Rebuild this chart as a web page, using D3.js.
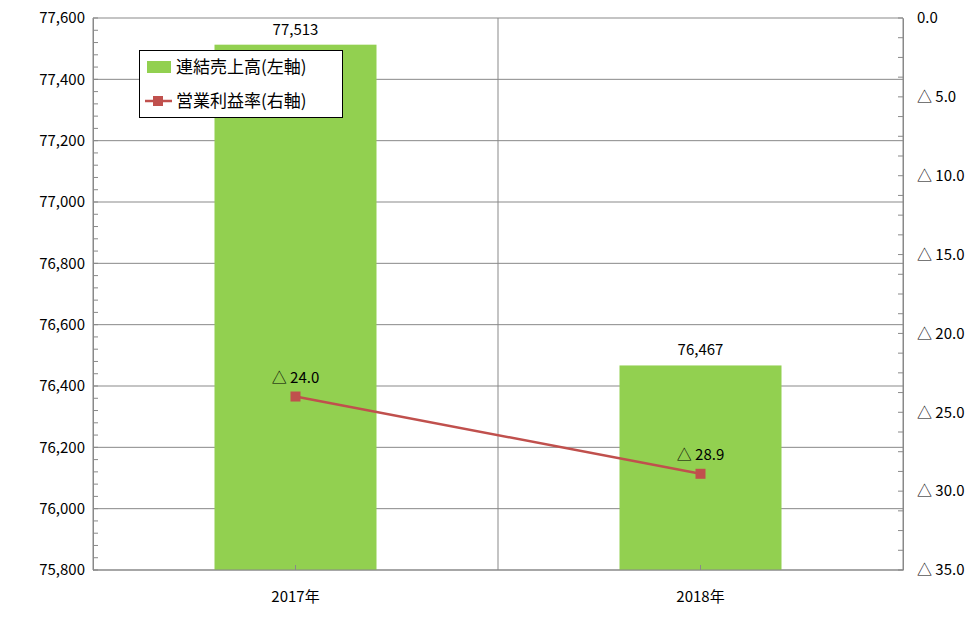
<!DOCTYPE html>
<html><head><meta charset="utf-8">
<script src="https://cdn.jsdelivr.net/npm/d3@7"></script>
<style>body{margin:0;background:#fff}text{font-family:"Noto Sans CJK JP","Noto Sans",sans-serif;fill:#000}</style>
</head><body><svg id="c" width="976" height="638"></svg>
<script>
const years = ['2017年', '2018年']
const sales = [77513, 76467]
const margin = [24.0, 28.9]
const leftTicks = [75800, 76000, 76200, 76400, 76600, 76800, 77000, 77200, 77400, 77600]
const rightTicks = [0, 5, 10, 15, 20, 25, 30, 35]

const L = 93, R = 903, T = 18, B = 570
const svg = d3.select('#c')
const x = d3.scaleBand().domain(years).range([L, R])
const yL = d3.scaleLinear().domain([75800, 77600]).range([B, T])
const yR = d3.scaleLinear().domain([0, 35]).range([T, B])
const grey = '#898989'

// horizontal grid
svg.selectAll('.g').data(leftTicks).enter().append('line')
    .attr('x1', L).attr('x2', R).attr('y1', d => yL(d)).attr('y2', d => yL(d))
    .attr('stroke', grey).attr('stroke-width', 1)
// vertical grid at band edges
svg.selectAll('.v').data([L, L + x.bandwidth(), R]).enter().append('line')
    .attr('x1', d => d).attr('x2', d => d).attr('y1', T).attr('y2', B)
    .attr('stroke', grey)

// bars
const bw = x.bandwidth() * 0.4
svg.selectAll('.bar').data(sales).enter().append('rect')
    .attr('x', (d, i) => x(years[i]) + x.bandwidth() / 2 - bw / 2)
    .attr('width', bw).attr('y', d => yL(d)).attr('height', d => B - yL(d))
    .attr('fill', '#92d050')
svg.selectAll('.bl').data(sales).enter().append('text')
    .attr('x', (d, i) => x(years[i]) + x.bandwidth() / 2).attr('y', d => yL(d) - 10)
    .attr('text-anchor', 'middle').attr('font-size', 15).text(d => d3.format(',')(d))

// axes
const axL = svg.append('g').attr('transform', `translate(${L},0)`)
    .call(d3.axisLeft(yL).tickValues(leftTicks).tickFormat(d3.format(',')).tickSize(0).tickPadding(8))
axL.select('.domain').attr('stroke', grey)
axL.selectAll('text').attr('font-size', 15).attr('font-family', '"Noto Sans",sans-serif')
const minorL = d3.range(75800, 77600.1, 40)
svg.selectAll('.ml').data(minorL).enter().append('line')
    .attr('x1', L).attr('x2', L + 5).attr('y1', d => yL(d)).attr('y2', d => yL(d)).attr('stroke', grey)

const axR = svg.append('g').attr('transform', `translate(${R},0)`)
    .call(d3.axisRight(yR).tickValues(rightTicks).tickSize(0).tickPadding(14)
        .tickFormat(d => d === 0 ? '0.0' : '△ ' + d.toFixed(1)))
axR.select('.domain').attr('stroke', grey)
axR.selectAll('text').attr('font-size', 15)
const minorR = d3.range(0, 35.01, 1.25)
svg.selectAll('.mr').data(minorR).enter().append('line')
    .attr('x1', R - 5).attr('x2', R).attr('y1', d => yR(d)).attr('y2', d => yR(d)).attr('stroke', grey)

svg.append('line').attr('x1', L).attr('x2', R).attr('y1', B).attr('y2', B).attr('stroke', grey)
svg.selectAll('.xt').data(years).enter().append('line')
    .attr('x1', d => x(d) + x.bandwidth() / 2).attr('x2', d => x(d) + x.bandwidth() / 2)
    .attr('y1', B).attr('y2', B - 5).attr('stroke', grey)
svg.selectAll('.xl').data(years).enter().append('text')
    .attr('x', d => x(d) + x.bandwidth() / 2).attr('y', B + 32)
    .attr('text-anchor', 'middle').attr('font-size', 15).text(d => d)

// line
const cx = i => x(years[i]) + x.bandwidth() / 2
svg.append('path').datum(margin)
    .attr('d', d3.line().x((d, i) => cx(i)).y(d => yR(d)))
    .attr('fill', 'none').attr('stroke', '#c0504d').attr('stroke-width', 2.5)
svg.selectAll('.pt').data(margin).enter().append('rect')
    .attr('x', (d, i) => cx(i) - 5).attr('y', d => yR(d) - 5).attr('width', 10).attr('height', 10)
    .attr('fill', '#c0504d')
svg.selectAll('.pl').data(margin).enter().append('text')
    .attr('x', (d, i) => cx(i)).attr('y', d => yR(d) - 14)
    .attr('text-anchor', 'middle').attr('font-size', 15).text(d => '△ ' + d.toFixed(1))

// legend
const lg = svg.append('g')
lg.append('rect').attr('x', 139.5).attr('y', 50.5).attr('width', 203).attr('height', 67)
    .attr('fill', '#fff').attr('stroke', '#000')
lg.append('rect').attr('x', 147).attr('y', 61).attr('width', 24).attr('height', 12).attr('fill', '#92d050')
lg.append('text').attr('x', 176).attr('y', 73).attr('font-size', 17).text('連結売上高(左軸)')
lg.append('line').attr('x1', 145).attr('x2', 172).attr('y1', 101).attr('y2', 101)
    .attr('stroke', '#c0504d').attr('stroke-width', 2.5)
lg.append('rect').attr('x', 153).attr('y', 96).attr('width', 10).attr('height', 10).attr('fill', '#c0504d')
lg.append('text').attr('x', 176).attr('y', 107).attr('font-size', 17).text('営業利益率(右軸)')
</script></body></html>
